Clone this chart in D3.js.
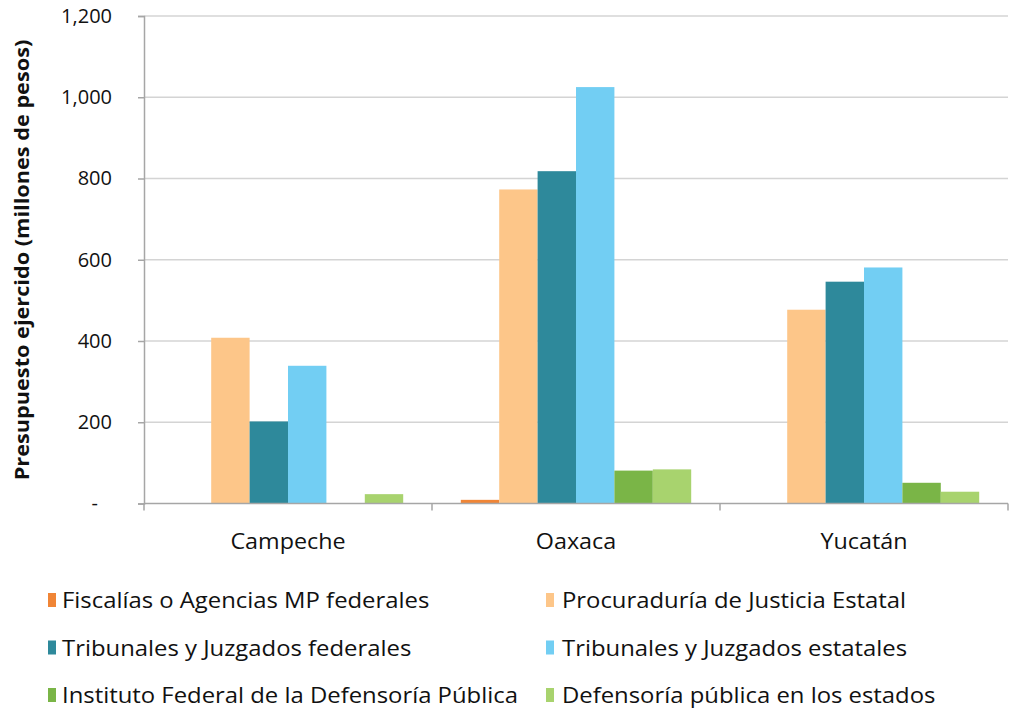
<!DOCTYPE html>
<html>
<head>
<meta charset="utf-8">
<script src="https://cdn.jsdelivr.net/npm/d3@7"></script>
<style>
  html, body { margin: 0; padding: 0; background: #fff; }
  svg text { font-family: "Open Sans", sans-serif; fill: #111; }
</style>
</head>
<body>
<svg id="chart" width="1014" height="711"></svg>
<script>
// States on the x axis
const states = ["Campeche", "Oaxaca", "Yucatán"];

// Spending series (millones de pesos), one value per state
const seriesNames = [
  "Fiscalías o Agencias MP federales",
  "Procuraduría de Justicia Estatal",
  "Tribunales y Juzgados federales",
  "Tribunales y Juzgados estatales",
  "Instituto Federal de la Defensoría Pública",
  "Defensoría pública en los estados"
];
const fiscaliasFederales   = [1, 9, 1];
const procuraduriaEstatal  = [408, 773, 477];
const tribunalesFederales  = [202, 818, 546];
const tribunalesEstatales  = [339, 1025, 581];
const defensoriaFederal    = [0, 81, 51];
const defensoriaEstatal    = [23, 84, 29];

const seriesColors = ["#F08536", "#FDC689", "#2E899B", "#72CEF3", "#7AB547", "#A8D36E"];

const yTicks = [0, 200, 400, 600, 800, 1000, 1200];

const seriesValues = [
  fiscaliasFederales, procuraduriaEstatal, tribunalesFederales,
  tribunalesEstatales, defensoriaFederal, defensoriaEstatal
];

// the labels use a slightly widened face
const WIDEN = 1.085;

const svg = d3.select("#chart");

const plot = { left: 144, right: 1008, top: 16, bottom: 503.5 };

const x0 = d3.scaleBand().domain(states).range([plot.left, plot.right]).padding(0);
// each state's bar group fills the middle 80% of its band
const x1 = d3.scaleBand().domain(d3.range(seriesNames.length))
  .range([x0.bandwidth() * 0.1, x0.bandwidth() * 0.9]).padding(0);

const y = d3.scaleLinear().domain([0, 1200]).range([plot.bottom, plot.top]);

// horizontal gridlines
svg.append("g")
  .selectAll("line")
  .data(yTicks.filter(d => d > 0))
  .join("line")
  .attr("x1", plot.left).attr("x2", plot.right)
  .attr("y1", d => y(d)).attr("y2", d => y(d))
  .attr("stroke", "#D4D4D4").attr("stroke-width", 1.5);

// bars
const groups = svg.append("g")
  .selectAll("g")
  .data(states)
  .join("g")
  .attr("transform", d => `translate(${x0(d)},0)`);

groups.selectAll("rect")
  .data((d, i) => seriesValues.map((vals, s) => ({ s, v: vals[i] })))
  .join("rect")
  .attr("x", d => x1(d.s))
  .attr("width", x1.bandwidth())
  .attr("y", d => y(d.v))
  .attr("height", d => plot.bottom - y(d.v))
  .attr("fill", d => seriesColors[d.s]);

// y axis
const yAxis = d3.axisLeft(y)
  .tickValues(yTicks)
  .tickSize(6)
  .tickPadding(26)
  .tickFormat(d => d === 0 ? "-" : d3.format(",")(d));

const gy = svg.append("g")
  .attr("transform", `translate(${plot.left},0)`)
  .call(yAxis);
gy.select(".domain").attr("stroke", "#A6A6A6").attr("stroke-width", 1.5);
gy.selectAll(".tick line").attr("stroke", "#A6A6A6").attr("stroke-width", 1.5);
gy.selectAll(".tick text").attr("font-size", 20).attr("fill", "#111")
  .style("font-family", "'Open Sans', sans-serif");
gy.selectAll(".tick text").filter(d => d === 0).attr("dx", -14);

// x axis line with ticks at band boundaries
const gx = svg.append("g");
gx.append("line")
  .attr("x1", plot.left).attr("x2", plot.right)
  .attr("y1", plot.bottom).attr("y2", plot.bottom)
  .attr("stroke", "#A6A6A6").attr("stroke-width", 1.5);
const boundaries = states.map(s => x0(s)).concat([x0(states[states.length - 1]) + x0.bandwidth()]);
gx.selectAll("line.tk")
  .data(boundaries)
  .join("line")
  .attr("class", "tk")
  .attr("x1", d => d).attr("x2", d => d)
  .attr("y1", plot.bottom).attr("y2", plot.bottom + 7)
  .attr("stroke", "#A6A6A6").attr("stroke-width", 1.5);
gx.selectAll("text")
  .data(states)
  .join("text")
  .attr("transform", d => `translate(${x0(d) + x0.bandwidth() / 2},549) scale(${WIDEN},1)`)
  .attr("text-anchor", "middle")
  .attr("font-size", 21.5)
  .text(d => d);

// y axis title
svg.append("text")
  .attr("transform", `translate(29,260) rotate(-90) scale(${WIDEN},1)`)
  .attr("text-anchor", "middle")
  .attr("font-size", 20)
  .attr("font-weight", "bold")
  .text("Presupuesto ejercido (millones de pesos)");

// legend: two columns, three rows
const legend = svg.append("g");
const legendItems = legend.selectAll("g")
  .data(seriesNames)
  .join("g")
  .attr("transform", (d, i) => `translate(${i % 2 === 0 ? 48 : 546},${600 + Math.floor(i / 2) * 47.5})`);
legendItems.append("rect")
  .attr("x", 0).attr("y", -7).attr("width", 8).attr("height", 14)
  .attr("fill", (d, i) => seriesColors[i]);
legendItems.append("text")
  .attr("transform", (d, i) => `translate(${i % 2 === 0 ? 14 : 16},8) scale(${WIDEN},1)`)
  .attr("font-size", 22)
  .text(d => d);
</script>
</body>
</html>
